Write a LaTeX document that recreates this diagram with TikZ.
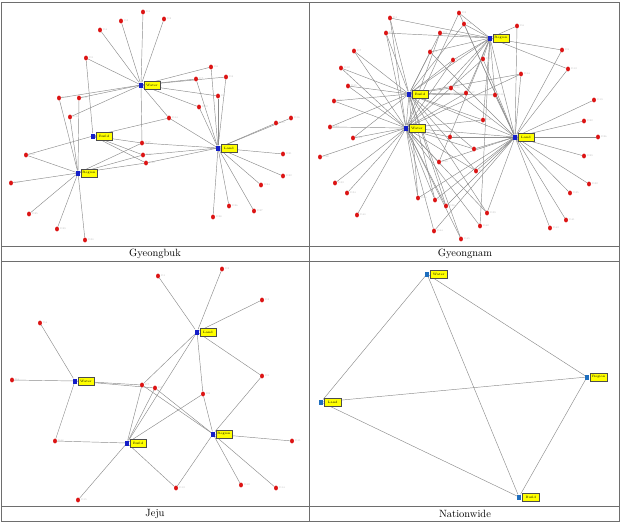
\documentclass[tikz,border=0pt]{standalone}
\usetikzlibrary{positioning,backgrounds,shapes.geometric}
\definecolor{hubblue}{RGB}{20,30,200}
\definecolor{nwblue}{RGB}{30,110,190}
\definecolor{dotred}{RGB}{220,20,20}
\definecolor{tagyellow}{RGB}{255,255,0}
\definecolor{linegrey}{RGB}{140,140,140}
\definecolor{ruleg}{RGB}{110,110,110}

\begin{document}
\begin{tikzpicture}[x=1pt, y=-1pt,
    dot/.style={ellipse, fill=dotred, inner sep=0pt, minimum width=4pt, minimum height=4.8pt},
    lbl/.style={font=\fontsize{2.5}{3}\selectfont, text=gray!55, inner sep=0.6pt},
    hub/.style={rectangle, fill=hubblue, inner sep=0pt, minimum width=3.8pt, minimum height=5pt},
    tag/.style={draw=black!70, line width=0.3pt, fill=tagyellow, font=\fontsize{3.2}{4}\selectfont,
                inner sep=0.8pt, minimum width=15.5pt, minimum height=7.5pt},
    edge/.style={draw=linegrey, line width=0.45pt},
    rule/.style={draw=ruleg, line width=0.6pt},
    caption/.style={font=\fontsize{10.5}{12}\selectfont}
]
    \useasboundingbox (0,0) rectangle (622,522);

    % table frame
    \draw[rule] (1.5,2) rectangle (619.5,521);
    \draw[rule] (309.5,2) -- (309.5,521);
    \draw[rule] (1.5,246) -- (619.5,246);
    \draw[rule] (1.5,261) -- (619.5,261);
    \draw[rule] (1.5,506) -- (619.5,506);

    \node[caption] (capGB) at (155,253.5) {Gyeongbuk};
    \node[caption] (capGN) at (465,253.5) {Gyeongnam};
    \node[caption] (capJJ) at (155,513.5) {Jeju};
    \node[caption] (capNW) at (465,513.5) {Nationwide};

    % Gyeongbuk
    \node[hub] (gbW) at (141,85) {};
    \node[hub] (gbB) at (93,136) {};
    \node[hub] (gbL) at (218,148) {};
    \node[hub] (gbR) at (78,173) {};
    \node[tag, right=1pt of gbW] (gbWt) {Water};
    \node[tag, right=1pt of gbB] (gbBt) {Build};
    \node[tag, right=1pt of gbL] (gbLt) {Land};
    \node[tag, right=1pt of gbR] (gbRt) {Region};
    \foreach \n/\x/\y in {1/143/12, 2/164/19, 3/121/21, 4/100/30, 5/86/58, 6/211/67,
        7/196/79, 8/226/77, 9/218/96, 10/59/98, 11/79/98, 12/199/107, 13/70/117,
        14/169/118, 15/276/123, 16/291/118, 17/142/143, 18/26/155, 19/143/155,
        20/146/163, 21/283/154, 22/283/176, 23/11/183, 24/261/185, 25/29/214,
        26/229/206, 27/254/211, 28/213/217, 29/57/229, 30/85/240}
        \node[dot, label={[lbl]right:D\n}] (gb\n) at (\x,\y) {};

    % Gyeongnam
    \node[hub] (gnR) at (490,38) {};
    \node[hub] (gnB) at (409,94) {};
    \node[hub] (gnW) at (406,128) {};
    \node[hub] (gnL) at (515,137) {};
    \node[tag, right=1pt of gnR] (gnRt) {Region};
    \node[tag, right=1pt of gnB] (gnBt) {Build};
    \node[tag, right=1pt of gnW] (gnWt) {Water};
    \node[tag, right=1pt of gnL] (gnLt) {Land};
    \foreach \n/\x/\y in {1/390/18, 2/459/13, 3/464/24, 4/386/33, 5/440/33, 6/517/26,
        7/354/51, 8/430/52, 9/562/50, 10/453/60, 11/483/59, 12/341/68, 13/568/69,
        14/521/74, 15/348/86, 16/451/88, 17/466/93, 18/495/95, 19/594/100,
        20/334/101, 21/483/120, 22/584/121, 23/330/127, 24/353/138, 25/450/137,
        26/598/137, 27/474/149, 28/320/157, 29/584/156, 30/439/162, 31/476/171,
        32/589/184, 33/335/183, 34/347/193, 35/570/193, 36/418/198, 37/435/200,
        38/446/206, 39/487/213, 40/357/215, 41/566/220, 42/480/226, 43/550/228,
        44/434/231, 45/461/239}
        \node[dot, label={[lbl]right:D\n}] (gn\n) at (\x,\y) {};

    % Jeju
    \node[hub] (jjL) at (197,332) {};
    \node[hub] (jjW) at (75,381) {};
    \node[hub] (jjR) at (213,434) {};
    \node[hub] (jjB) at (127,443) {};
    \node[tag, right=1pt of jjL] (jjLt) {Land};
    \node[tag, right=1pt of jjW] (jjWt) {Water};
    \node[tag, right=1pt of jjR] (jjRt) {Region};
    \node[tag, right=1pt of jjB] (jjBt) {Build};
    \foreach \n/\x/\y in {1/158/276, 2/222/269, 3/262/300, 4/40/323, 5/262/376,
        6/12/380, 7/142/385, 8/155/388, 9/203/394, 10/55/441, 11/292/441,
        12/241/485, 13/176/488, 14/276/488, 15/78/500}
        \node[dot, label={[lbl]right:D\n}] (jj\n) at (\x,\y) {};

    % Nationwide
    \node[hub, fill=nwblue] (nwW) at (427,274) {};
    \node[hub, fill=nwblue] (nwR) at (587,377) {};
    \node[hub, fill=nwblue] (nwL) at (321,402) {};
    \node[hub, fill=nwblue] (nwB) at (519,497) {};
    \node[tag, minimum width=17pt, minimum height=8pt, right=1pt of nwW] (nwWt) {Water};
    \node[tag, minimum width=17pt, minimum height=8pt, right=1pt of nwR] (nwRt) {Region};
    \node[tag, minimum width=17pt, minimum height=8pt, right=1pt of nwL] (nwLt) {Land};
    \node[tag, minimum width=17pt, minimum height=8pt, right=1pt of nwB] (nwBt) {Build};

    \begin{scope}[on background layer]
        \foreach \h/\l in {gbW/{1,2,3,4,5,6,7,8,9,10,11,12,13,14,17},
                           gbB/{5,14,17,18,19,20},
                           gbL/{6,7,8,9,12,14,15,16,17,19,20,21,22,24,26,27,28},
                           gbR/{10,11,13,17,18,19,20,23,25,29,30}}
            \foreach \d in \l \draw[edge] (\h) -- (gb\d);

        \foreach \h/\l in {gnW/{1,2,4,5,7,10,11,12,14,15,17,20,21,23,24,25,27,28,30,31,33,34,36,37,38,39,40,42,44,45},
                           gnB/{1,3,4,5,7,8,10,12,14,15,16,17,18,20,21,23,24,27,31,36,37,38,39,45},
                           gnR/{1,2,3,4,5,6,8,9,10,11,13,16,17,18,21,30,42},
                           gnL/{2,3,6,8,9,11,13,14,16,18,19,22,25,26,27,29,30,31,32,35,36,37,38,39,41,43,44}}
            \foreach \d in \l \draw[edge] (\h) -- (gn\d);
        \foreach \a/\b in {gnW/gnB, gnW/gnR, gnW/gnL, gnB/gnR, gnB/gnL, gnR/gnL}
            \draw[edge] (\a) -- (\b);

        \foreach \h/\l in {jjW/{4,6,7,8,10},
                           jjB/{7,8,9,10,13,15},
                           jjL/{1,2,3,5,7,9},
                           jjR/{5,7,8,9,11,12,13,14}}
            \foreach \d in \l \draw[edge] (\h) -- (jj\d);
        \draw[edge] (jjB) -- (jjL);

        \foreach \a/\b in {nwL/nwW, nwL/nwR, nwL/nwB, nwW/nwR, nwW/nwB, nwB/nwR}
            \draw[edge] (\a) -- (\b);
    \end{scope}
\end{tikzpicture}
\end{document}
